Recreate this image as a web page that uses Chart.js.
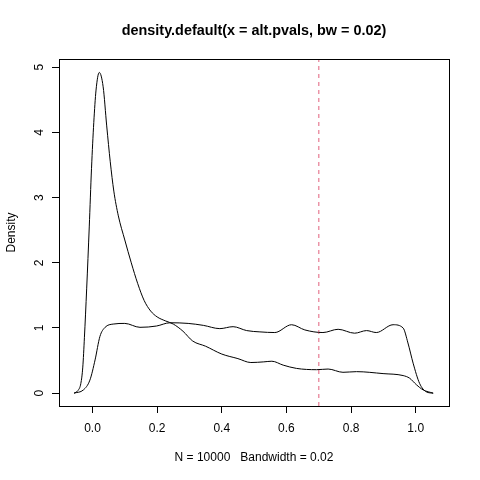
<!DOCTYPE html>
<html>
<head>
<meta charset="utf-8">
<script src="https://cdn.jsdelivr.net/npm/chart.js@4"></script>
<style>
  html, body { margin: 0; padding: 0; background: #fff; }
  #wrap { width: 480px; height: 480px; }
</style>
</head>
<body>
<div id="wrap"><canvas id="densityChart" width="480" height="480"></canvas></div>
<script>
// ====================
// データ
// ====================
const titleText = "density.default(x = alt.pvals, bw = 0.02)";
const subText = "N = 10000   Bandwidth = 0.02";

// alt.pvals の密度（0 付近に鋭いピーク）
const altX = [-0.057, -0.045, -0.036, -0.030, -0.025, -0.018, -0.010, -0.003, 0.004, 0.011,
              0.021, 0.033, 0.044, 0.055, 0.066, 0.080, 0.100, 0.120, 0.140, 0.160,
              0.180, 0.200, 0.225, 0.250, 0.280, 0.310, 0.350, 0.400, 0.450, 0.490,
              0.530, 0.555, 0.590, 0.631, 0.693, 0.729, 0.775, 0.817, 0.899, 0.961,
              0.981, 1.002, 1.023, 1.054];
const altY = [0.00, 0.04, 0.15, 0.40, 0.85, 1.60, 2.55, 3.45, 4.15, 4.65,
              4.92, 4.70, 4.10, 3.55, 3.10, 2.72, 2.35, 2.00, 1.68, 1.42,
              1.26, 1.17, 1.11, 1.06, 0.95, 0.80, 0.72, 0.60, 0.53, 0.47,
              0.48, 0.49, 0.43, 0.38, 0.36, 0.37, 0.32, 0.33, 0.30, 0.27,
              0.23, 0.13, 0.05, 0.00];

// ほぼ一様な密度
const nullX = [-0.057, -0.028, -0.008, 0.008, 0.023, 0.039, 0.064, 0.100, 0.147, 0.198,
               0.240, 0.296, 0.343, 0.394, 0.435, 0.477, 0.518, 0.564, 0.616, 0.657,
               0.713, 0.760, 0.811, 0.848, 0.878, 0.930, 0.961, 0.976, 0.992, 1.012,
               1.033, 1.054];
const nullY = [0.00, 0.05, 0.20, 0.51, 0.87, 1.01, 1.06, 1.07, 1.01, 1.03,
               1.08, 1.07, 1.04, 0.99, 1.02, 0.96, 0.94, 0.93, 1.05, 0.97,
               0.93, 0.98, 0.92, 0.96, 0.93, 1.05, 1.00, 0.77, 0.46, 0.15,
               0.02, 0.00];

const cutoff = 0.7;   // abline(v = 0.7)
const xTicks = [0, 0.2, 0.4, 0.6, 0.8, 1.0];
const yTicks = [0, 1, 2, 3, 4, 5];
const xMin = -0.1036, xMax = 1.103;
const yMin = -0.197, yMax = 5.127;

const toPoints = (xs, ys) => xs.map((x, i) => ({ x: x, y: ys[i] }));

// ====================
// 枠線（R の box()）
// ====================
const boxPlugin = {
    id: "box",
    afterDraw(chart) {
        const a = chart.chartArea;
        const ctx = chart.ctx;
        ctx.save();
        ctx.strokeStyle = "#000";
        ctx.lineWidth = 1;
        ctx.strokeRect(Math.round(a.left) + 0.5, Math.round(a.top) + 0.5,
                       Math.round(a.right - a.left), Math.round(a.bottom - a.top));
        ctx.restore();
    }
};

const font = { family: "'Liberation Sans', Arial, sans-serif", size: 12 };

new Chart(document.getElementById("densityChart"), {
    type: "line",
    data: {
        datasets: [
            {
                data: toPoints(altX, altY),
                borderColor: "#000",
                borderWidth: 1,
                pointRadius: 0,
                cubicInterpolationMode: "monotone"
            },
            {
                data: toPoints(nullX, nullY),
                borderColor: "#000",
                borderWidth: 1,
                pointRadius: 0,
                cubicInterpolationMode: "monotone"
            },
            {
                data: [{ x: cutoff, y: yMin }, { x: cutoff, y: yMax }],
                borderColor: "rgba(225, 90, 120, 0.65)",
                borderWidth: 1.5,
                borderDash: [4, 4],
                pointRadius: 0
            }
        ]
    },
    options: {
        responsive: false,
        animation: false,
        layout: { padding: { left: 0, right: 31, top: 0, bottom: 0 } },
        plugins: {
            legend: { display: false },
            tooltip: { enabled: false },
            title: {
                display: true,
                text: titleText,
                fullSize: false,
                color: "#000",
                font: { family: font.family, size: 14.4, weight: "bold" },
                padding: { top: 22, bottom: 19.7 }
            }
        },
        scales: {
            x: {
                type: "linear",
                min: xMin,
                max: xMax,
                afterBuildTicks: s => { s.ticks = xTicks.map(v => ({ value: v })); },
                afterFit: s => { s.height = 74; },
                ticks: {
                    color: "#000",
                    font: font,
                    padding: 8.5,
                    maxRotation: 0,
                    autoSkip: false,
                    callback: v => v.toFixed(1)
                },
                grid: { drawOnChartArea: false, drawTicks: true, tickLength: 7, color: "#000" },
                border: { display: false },
                title: {
                    display: true,
                    text: subText,
                    color: "#000",
                    font: font,
                    padding: { top: 0, bottom: 15 }
                }
            },
            y: {
                type: "linear",
                min: yMin,
                max: yMax,
                afterBuildTicks: s => { s.ticks = yTicks.map(v => ({ value: v })); },
                afterFit: s => { s.width = 59; },
                ticks: {
                    color: "#000",
                    font: font,
                    padding: 8.5,
                    minRotation: 90,
                    maxRotation: 90,
                    crossAlign: "center",
                    autoSkip: false,
                    callback: v => String(v)
                },
                grid: { drawOnChartArea: false, drawTicks: true, tickLength: 7, color: "#000" },
                border: { display: false },
                title: {
                    display: true,
                    text: "Density",
                    color: "#000",
                    font: font,
                    padding: { top: 4, bottom: 0 }
                }
            }
        }
    },
    plugins: [boxPlugin]
});
</script>
</body>
</html>
